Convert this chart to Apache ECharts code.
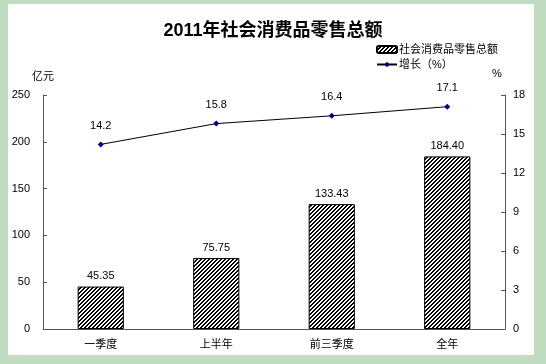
<!DOCTYPE html>
<html><head><meta charset="utf-8">
<script src="https://cdn.jsdelivr.net/npm/echarts@6/dist/echarts.min.js"></script>
<style>html,body{margin:0;padding:0;background:#c0dcc0;}#c{width:546px;height:364px;}</style>
</head><body><div id="c"></div>
<script>
const categories = ['一季度', '上半年', '前三季度', '全年'];
const salesValues = [45.35, 75.75, 133.43, 184.40];
const growthValues = [14.2, 15.8, 16.4, 17.1];
const leftTicks = {min: 0, max: 250, interval: 50};
const rightTicks = {min: 0, max: 18, interval: 3};

const FONT = 'Liberation Sans, Arial, Noto Sans CJK SC, sans-serif';

function hatch() {
  const n = 4;
  const cv = document.createElement('canvas');
  cv.width = n; cv.height = n;
  const ctx = cv.getContext('2d');
  ctx.fillStyle = '#fff'; ctx.fillRect(0, 0, n, n);
  ctx.fillStyle = '#000';
  for (let x = 0; x < n; x++) {
    const y = n - 1 - x;
    ctx.fillRect(x, y, 1, 1);
    ctx.fillRect(x, (y + 1) % n, 1, 1);
  }
  return cv;
}

const chart = echarts.init(document.getElementById('c'), null, {renderer: 'canvas'});
chart.setOption({
  backgroundColor: '#c0dcc0',
  animation: false,
  graphic: [{type: 'rect', shape: {x: 8, y: 4, width: 526, height: 351}, style: {fill: '#fff'}, z: -10, silent: true}],
  title: {
    text: '2011年社会消费品零售总额', left: 268, top: 17, textAlign: 'center',
    textStyle: {fontSize: 18, fontWeight: 'bold', color: '#000', fontFamily: FONT}
  },
  legend: {
    orient: 'vertical', left: 371, top: 39, itemGap: 4, itemWidth: 20, itemHeight: 7,
    textStyle: {fontSize: 11, color: '#000', fontFamily: FONT, padding: [0, 0, 0, -3]},
    data: ['社会消费品零售总额', '增长（%）']
  },
  grid: {left: 43, right: 41, top: 95, bottom: 35},
  xAxis: {
    type: 'category', data: categories,
    axisLine: {lineStyle: {color: '#555', width: 1}},
    axisTick: {inside: true, length: 3, lineStyle: {color: '#555'}},
    axisLabel: {fontSize: 11, color: '#000', margin: 10, fontFamily: FONT},
    splitLine: {show: false}
  },
  yAxis: [{
    type: 'value', min: leftTicks.min, max: leftTicks.max, interval: leftTicks.interval,
    name: '亿元', nameGap: 13, nameTextStyle: {fontSize: 11, color: '#000', fontFamily: FONT},
    axisLine: {show: true, lineStyle: {color: '#555'}},
    axisTick: {show: true, inside: true, length: 4, lineStyle: {color: '#555'}},
    axisLabel: {fontSize: 11, color: '#000', margin: 13, fontFamily: FONT},
    splitLine: {show: false}
  }, {
    type: 'value', min: rightTicks.min, max: rightTicks.max, interval: rightTicks.interval,
    name: '%', nameGap: 16, nameTextStyle: {fontSize: 11, color: '#000', fontFamily: FONT, padding: [0, 16, 0, 0]},
    axisLine: {show: true, lineStyle: {color: '#555'}},
    axisTick: {show: true, inside: true, length: 4, lineStyle: {color: '#555'}},
    axisLabel: {fontSize: 11, color: '#000', margin: 8, fontFamily: FONT},
    splitLine: {show: false}
  }],
  series: [{
    name: '社会消费品零售总额', type: 'bar', data: salesValues, barWidth: '40%',
    itemStyle: {color: {image: hatch(), repeat: 'repeat'}, borderColor: '#000', borderWidth: 1},
    label: {show: true, position: 'top', distance: 5, fontSize: 11, color: '#000', fontFamily: FONT,
      formatter: p => p.value.toFixed(2)}
  }, {
    name: '增长（%）', type: 'line', yAxisIndex: 1, data: growthValues,
    symbol: 'diamond', symbolSize: 6,
    itemStyle: {color: '#000080'}, lineStyle: {color: '#000', width: 1},
    label: {show: true, position: 'top', distance: 10, fontSize: 11, color: '#000', fontFamily: FONT,
      formatter: p => p.value.toFixed(1)}
  }]
});
</script></body></html>
